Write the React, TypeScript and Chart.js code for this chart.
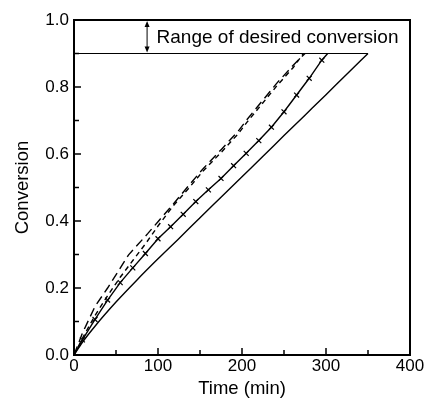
import React, { useEffect, useRef } from "react";
import { Chart, registerables } from "chart.js";

Chart.register(...registerables);

// ---- data ----
const timeSolid = [0, 10, 25, 50, 75, 100, 125, 150, 175, 200, 225, 250, 275, 300, 325, 350];
const convSolid = [0, 0.038, 0.086, 0.158, 0.224, 0.287, 0.348, 0.41, 0.471, 0.532, 0.593, 0.655, 0.716, 0.777, 0.839, 0.9];

const timeCross = [0, 10, 25, 40, 55, 70, 85, 100, 115, 130, 145, 160, 175, 190, 205, 220, 235, 250, 265, 280, 295, 302];
const convCross = [0, 0.045, 0.106, 0.164, 0.216, 0.26, 0.303, 0.347, 0.383, 0.42, 0.458, 0.493, 0.527, 0.565, 0.602, 0.64, 0.68, 0.726, 0.776, 0.826, 0.88, 0.9];

const timeLongDash = [0, 10, 25, 40, 65, 88, 100, 118, 138, 154, 176, 196, 206, 241, 261, 275];
const convLongDash = [0, 0.065, 0.145, 0.2, 0.299, 0.363, 0.398, 0.45, 0.51, 0.557, 0.615, 0.67, 0.703, 0.81, 0.865, 0.9];

const timeShortDash = [0, 10, 25, 40, 55, 70, 86, 100, 118, 138, 154, 176, 196, 206, 241, 261, 273];
const convShortDash = [0, 0.05, 0.118, 0.177, 0.232, 0.282, 0.335, 0.385, 0.445, 0.502, 0.55, 0.607, 0.662, 0.695, 0.802, 0.858, 0.9];

const targetConversion = 0.9;
const targetLineEnd = 350;
const rangeTop = 1.0;
const arrowTime = 87;
const annotationText = "Range of desired conversion";

const xTicks = [0, 100, 200, 300, 400];
const yTicks = [0, 0.2, 0.4, 0.6, 0.8, 1.0];
const xMinorStep = 50;
const yMinorStep = 0.1;

const FONT = '"Liberation Sans", Arial, Helvetica, sans-serif';

const zip = (xs: number[], ys: number[]) => xs.map((x, i) => ({ x, y: ys[i] }));

const decorPlugin = {
  id: "decor",
  afterDatasetsDraw(chart: any) {
    const { ctx, chartArea, scales } = chart;
    const xs = scales.x;
    const ys = scales.y;
    const { left, right, top, bottom } = chartArea;
    ctx.save();
    ctx.strokeStyle = "#000";
    ctx.fillStyle = "#000";

    // inward ticks
    ctx.lineWidth = 1.5;
    for (let v = 0; v <= 400 + 1e-9; v += xMinorStep) {
      const px = xs.getPixelForValue(v);
      const major = xTicks.some((t) => Math.abs(t - v) < 1e-6);
      const len = major ? 7 : 5;
      ctx.beginPath();
      ctx.moveTo(px, bottom);
      ctx.lineTo(px, bottom - len);
      ctx.stroke();
    }
    for (let v = 0; v <= 1 + 1e-9; v += yMinorStep) {
      const py = ys.getPixelForValue(v);
      const major = yTicks.some((t) => Math.abs(t - v) < 1e-6);
      const len = major ? 7 : 5;
      ctx.beginPath();
      ctx.moveTo(left, py);
      ctx.lineTo(left + len, py);
      ctx.stroke();
    }

    // frame
    ctx.lineWidth = 2;
    ctx.strokeRect(left, top, right - left, bottom - top);

    // arrow
    const ax = xs.getPixelForValue(arrowTime);
    const ay1 = ys.getPixelForValue(rangeTop);
    const ay2 = ys.getPixelForValue(targetConversion);
    ctx.lineWidth = 1;
    ctx.beginPath();
    ctx.moveTo(ax, ay1 + 4);
    ctx.lineTo(ax, ay2 - 4);
    ctx.stroke();
    ctx.beginPath();
    ctx.moveTo(ax, ay1 + 1);
    ctx.lineTo(ax - 2.5, ay1 + 7);
    ctx.lineTo(ax + 2.5, ay1 + 7);
    ctx.closePath();
    ctx.fill();
    ctx.beginPath();
    ctx.moveTo(ax, ay2 - 1);
    ctx.lineTo(ax - 2.5, ay2 - 7);
    ctx.lineTo(ax + 2.5, ay2 - 7);
    ctx.closePath();
    ctx.fill();

    // annotation text
    ctx.font = `19px ${FONT}`;
    ctx.textAlign = "left";
    ctx.textBaseline = "alphabetic";
    const ty = ys.getPixelForValue((rangeTop + targetConversion) / 2) + 6.5;
    ctx.fillText(annotationText, ax + 9.5, ty);
    ctx.restore();
  },
};

export default function App() {
  const ref = useRef<HTMLCanvasElement | null>(null);
  useEffect(() => {
    document.body.style.margin = "0";
    const canvas = ref.current;
    if (!canvas) return;
    const base = {
      borderColor: "#000",
      backgroundColor: "#000",
      borderWidth: 1.4,
      pointRadius: 0,
      fill: false,
      tension: 0,
    };
    const chart = new Chart(canvas, {
      type: "line",
      data: {
        datasets: [
          { ...base, label: "target", data: [{ x: 0, y: targetConversion }, { x: targetLineEnd, y: targetConversion }], borderWidth: 1 },
          { ...base, label: "solid", data: zip(timeSolid, convSolid), cubicInterpolationMode: "monotone" },
          {
            ...base,
            label: "cross",
            data: zip(timeCross, convCross),
            pointStyle: "crossRot",
            pointRadius: (c: any) => (c.dataIndex === 0 || c.dataIndex === timeCross.length - 1 ? 0 : 3.5),
            pointBorderWidth: 1.2,
            pointBorderColor: "#000",
          },
          { ...base, label: "longdash", data: zip(timeLongDash, convLongDash), borderDash: [9, 5] },
          { ...base, label: "shortdash", data: zip(timeShortDash, convShortDash), borderDash: [5, 4] },
        ],
      },
      options: {
        animation: false,
        responsive: false,
        maintainAspectRatio: false,
        layout: { padding: { top: 20, right: 16, left: 0, bottom: 0 } },
        plugins: { legend: { display: false }, tooltip: { enabled: false } },
        scales: {
          x: {
            type: "linear",
            min: 0,
            max: 400,
            afterBuildTicks: (s: any) => {
              s.ticks = xTicks.map((v) => ({ value: v }));
            },
            ticks: { color: "#000", font: { family: FONT, size: 17 }, padding: 1, callback: (v: any) => String(v) },
            grid: { display: false, drawTicks: false },
            border: { display: false },
            title: { display: true, text: "Time (min)", color: "#000", font: { family: FONT, size: 18.5 }, padding: { top: 0, bottom: 1 } },
            afterFit: (s: any) => {
              s.height = 46;
            },
          },
          y: {
            type: "linear",
            min: 0,
            max: 1,
            afterBuildTicks: (s: any) => {
              s.ticks = yTicks.map((v) => ({ value: v }));
            },
            ticks: { color: "#000", font: { family: FONT, size: 17 }, padding: 5, callback: (v: any) => Number(v).toFixed(1) },
            grid: { display: false, drawTicks: false },
            border: { display: false },
            title: { display: true, text: "Conversion", color: "#000", font: { family: FONT, size: 18.5 }, padding: { top: 12, bottom: 0 } },
            afterFit: (s: any) => {
              s.width = 74;
            },
          },
        },
      },
      plugins: [decorPlugin],
    } as any);
    return () => chart.destroy();
  }, []);
  return (
    <div style={{ width: 426, height: 401, background: "#fff" }}>
      <canvas ref={ref} width={426} height={401} style={{ display: "block" }} />
    </div>
  );
}
